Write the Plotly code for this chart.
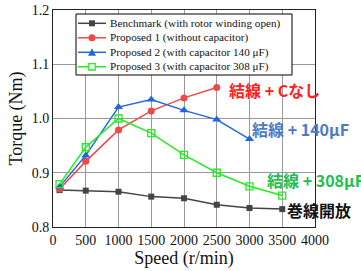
import plotly.graph_objects as go

speed_bench = [100, 500, 1000, 1500, 2000, 2500, 3000, 3500]
torque_bench = [0.868, 0.867, 0.865, 0.856, 0.853, 0.841, 0.835, 0.833]
speed_p1 = [100, 500, 1000, 1500, 2000, 2500]
torque_p1 = [0.870, 0.921, 0.979, 1.014, 1.038, 1.057]
speed_p2 = [100, 500, 1000, 1500, 2000, 2500, 3000]
torque_p2 = [0.874, 0.932, 1.021, 1.035, 1.015, 0.998, 0.962]
speed_p3 = [100, 500, 1000, 1500, 2000, 2500, 3000, 3500]
torque_p3 = [0.879, 0.947, 1.000, 0.973, 0.933, 0.900, 0.875, 0.858]

names = ["Benchmark (with rotor winding open)",
         "Proposed 1 (without capacitor)",
         "Proposed 2 (with capacitor 140 μF)",
         "Proposed 3 (with capacitor 308 μF)"]
x_ticks = [0, 500, 1000, 1500, 2000, 2500, 3000, 3500, 4000]
y_ticks = [0.8, 0.9, 1.0, 1.1, 1.2]

labels = ["結線 + Cなし", "結線 + 140μF", "結線 + 308μF", "巻線開放"]

colors = ["#444444", "#f04848", "#2266dd", "#22ee22"]
symbols = ["square", "circle", "triangle-up", "square-open"]
sizes = [6, 7, 8, 7]

W, H = 361, 271
ML, MR, MT, MB = 53, 46, 10, 44
PW, PH = W - ML - MR, H - MT - MB


def px(x):
    return (x - ML) / PW


def py(y):
    return (H - MB - y) / PH


series = [(speed_bench, torque_bench), (speed_p1, torque_p1),
          (speed_p2, torque_p2), (speed_p3, torque_p3)]

fig = go.Figure()
for i, (xs, ys) in enumerate(series):
    mk = dict(symbol=symbols[i], size=sizes[i], color=colors[i])
    if symbols[i].endswith("open"):
        mk["line"] = dict(width=1.3)
    fig.add_trace(go.Scatter(x=xs, y=ys, name=names[i], mode="lines+markers",
                             line=dict(color=colors[i], width=1.5), marker=mk,
                             showlegend=False))

# manual legend (compact rows like the reference)
shapes = [dict(type="rect", xref="paper", yref="paper", x0=px(76), x1=px(292),
               y0=py(75), y1=py(14), line=dict(color="black", width=1),
               fillcolor="white", layer="above")]
rows = [23.3, 37.8, 52.3, 66.8]
for i, ry in enumerate(rows):
    shapes.append(dict(type="line", xref="paper", yref="paper", x0=px(78), x1=px(106),
                       y0=py(ry), y1=py(ry), line=dict(color=colors[i], width=1.5),
                       layer="above"))
    cx, cy = 92, ry
    if symbols[i] == "square":
        shapes.append(dict(type="rect", xref="paper", yref="paper", x0=px(cx - 3), x1=px(cx + 3),
                           y0=py(cy + 3), y1=py(cy - 3), fillcolor=colors[i],
                           line=dict(width=0), layer="above"))
    elif symbols[i] == "circle":
        shapes.append(dict(type="circle", xref="paper", yref="paper", x0=px(cx - 3.5), x1=px(cx + 3.5),
                           y0=py(cy + 3.5), y1=py(cy - 3.5), fillcolor=colors[i],
                           line=dict(width=0), layer="above"))
    elif symbols[i] == "triangle-up":
        path = "M {:.4f} {:.4f} L {:.4f} {:.4f} L {:.4f} {:.4f} Z".format(
            px(cx - 4), py(cy + 3.5), px(cx + 4), py(cy + 3.5), px(cx), py(cy - 4))
        shapes.append(dict(type="path", xref="paper", yref="paper", path=path,
                           fillcolor=colors[i], line=dict(width=0), layer="above"))
    else:
        shapes.append(dict(type="rect", xref="paper", yref="paper", x0=px(cx - 3.2), x1=px(cx + 3.2),
                           y0=py(cy + 3.2), y1=py(cy - 3.2), fillcolor="white",
                           line=dict(color=colors[i], width=1.3), layer="above"))

serif = "Liberation Serif, Times New Roman, serif"
annotations = []
for i, ry in enumerate(rows):
    annotations.append(dict(x=px(108), y=py(ry), xref="paper", yref="paper",
                            text=names[i], showarrow=False, xanchor="left",
                            yanchor="middle",
                            font=dict(family=serif, size=11.2, color="#111")))

cjk = "Noto Sans CJK JP"
ann = [
    (227, 90, "#ff2020"),
    (250, 129, "#4a7acb"),
    (265, 180, "#20c050"),
    (285, 210, "#111111"),
]
for (ax, ay, col), lab in zip(ann, labels):
    annotations.append(dict(x=px(ax), y=py(ay), xref="paper", yref="paper",
                            text="<b>" + lab + "</b>", showarrow=False,
                            xanchor="left", yanchor="middle",
                            font=dict(family=cjk, size=16, color=col)))

fig.update_layout(
    width=W, height=H,
    margin=dict(l=ML, r=MR, t=MT, b=MB),
    paper_bgcolor="white", plot_bgcolor="white",
    font=dict(family=serif, size=14, color="#111"),
    showlegend=False,
    shapes=shapes, annotations=annotations,
    xaxis=dict(range=[0, 4000], tickvals=x_ticks, ticks="", showgrid=True,
               gridcolor="#9a9a9a", gridwidth=1, showline=True, linecolor="#222",
               linewidth=1, mirror=True, zeroline=False, automargin=False,
               tickfont=dict(size=14),
               title=dict(text="Speed (r/min)", font=dict(size=18), standoff=2)),
    yaxis=dict(range=[0.8, 1.2], tickvals=y_ticks, tickformat=".1f", ticks="",
               showgrid=True, gridcolor="#9a9a9a", gridwidth=1, showline=True,
               linecolor="#222", linewidth=1, mirror=True, zeroline=False,
               automargin=False, tickfont=dict(size=14),
               title=dict(text="Torque (Nm)", font=dict(size=18), standoff=4)),
)
fig.write_html("out.html", config={"displayModeBar": False},
               post_script="document.body.style.margin='0';document.body.style.overflow='hidden';")
